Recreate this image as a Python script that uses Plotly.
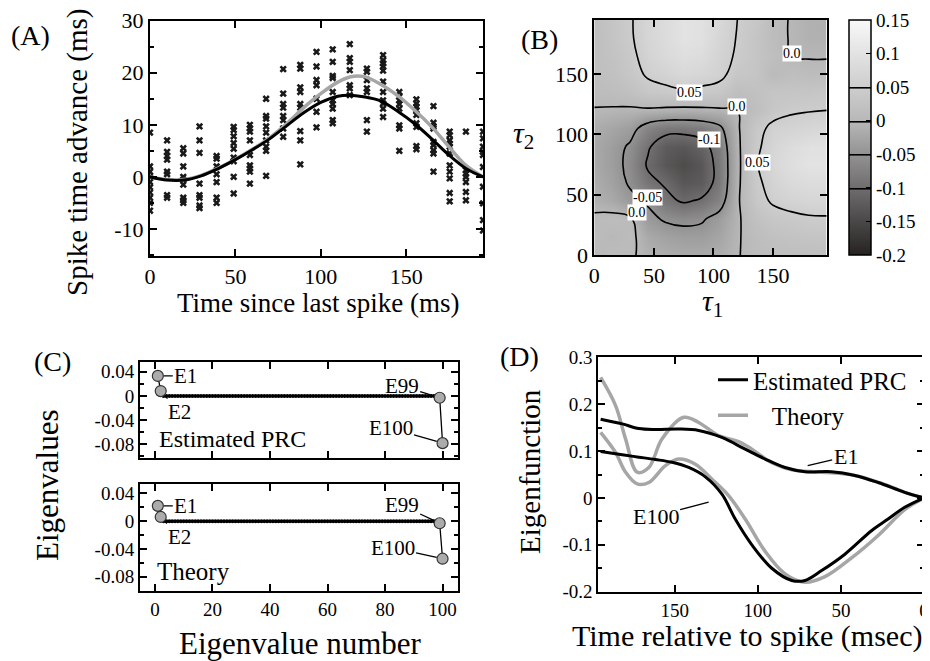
import plotly.graph_objects as go

W, H = 930, 661
OFF = 8  # the page body adds an 8px margin
FONT = "Liberation Serif"
GRAY = "#a6a6a6"


def px(x):
    return (x - OFF) / W


def py(y):
    return 1 - (y - OFF) / H


# ---------------- (A) spike time advance ----------------
phase_cols = [0, 10, 19.5, 29, 39, 49, 58.5, 68, 78, 88, 97.5, 107, 117, 127,
              136.5, 146, 156, 166, 175.5, 185, 195]
advance_pts = [
    [8.5, 2, 1, 0, -1, -2, -3, -4, -5, -6.5],
    [7, 4.8, 4, 3.3, 1, 0.5, -3.5, -4],
    [5.5, 4.5, 2, 0, -0.5, -1.5, -4, -4.5, -5],
    [9.7, 7, 4.6, -1.3, -3.5, -4, -5.5, -6],
    [4, 3.5, 2, 0.5, -1, -4, -5],
    [9.6, 9, 7.8, 6.5, 5.4, 3.7, 3, 0, -3.2],
    [10, 9.3, 8.7, 7, 4.2, 2.2, 1.6, 1, -1.3],
    [15, 11.7, 11.2, 9.7, 8.5, 7, 5.8, 5, 0.2],
    [20.7, 16, 14, 13.3, 11.7, 10.9, 9.3, 7.7],
    [21.5, 20.8, 17.2, 16.3, 14, 13.3, 8.8, 7, 2.4],
    [24, 21.2, 18.6, 17.6, 15, 12.5, 9.5],
    [24.5, 22.1, 19.4, 19, 16.3, 14.7, 14, 13.1, 10.9, 10.3],
    [25.5, 22.8, 22.1, 20.5, 17.6, 17, 15.7],
    [20.8, 20.2, 18.6, 17, 16.3, 10.9, 8.7],
    [23.4, 22.4, 21.8, 21.2, 20.4, 18.3, 16.3, 14.7, 14.1, 13.1, 11.5],
    [16.3, 15.4, 14.7, 14, 13.1, 9.9, 9.3, 5],
    [14.9, 14.1, 13.5, 12.8, 11.9, 10.3, 9.6, 5.9, 5.3],
    [13.6, 10.4, 9.7, 9.3, 6.7, 6.1, 5.1, 4.5, 1],
    [8.7, 8, 7, 6.4, 5.8, 4.5, 2.2, 1, -0.3, -3.1, -4.7],
    [8.7, 1.3, 0.6, 0, -1, -2.9, -4.5],
    [8.7, 7.4, 5.8, 4.8, 4.2, 1.9, -1.9, -5.1, -8.3, -10.3],
]
fit_t = [0, 10, 20, 30, 40, 50, 60, 70, 80, 90, 100, 110, 117, 125, 135, 145,
         155, 165, 175, 185, 195]
fit_est = [0, -0.6, -0.6, 0.2, 1.6, 3.3, 5.2, 7.3, 9.8, 12.3, 14.3, 15.5, 15.7,
           15.4, 14.6, 12.6, 10.2, 7.3, 4.2, 1.6, 0]
fit_theory = [0, -0.5, -0.5, 0.3, 1.7, 3.4, 5.3, 7.5, 10.2, 13.3, 16, 18.2, 19.2,
              19.3, 17.8, 15.6, 12.8, 9.6, 5.8, 2.2, 0]

# ---------------- (B) second order kernel ----------------
tau = [0, 15, 30, 45, 60, 75, 90, 105, 120, 135, 150, 165, 180, 195]
kernel = [
    [0.0, 0.01, 0.005, -0.01, -0.015, -0.02, -0.02, -0.015, -0.002, 0.01, 0.015, 0.015, 0.015, 0.015],
    [0.01, 0.0, 0.01, -0.02, -0.03, -0.035, -0.035, -0.025, -0.003, 0.012, 0.02, 0.025, 0.028, 0.03],
    [0.005, 0.01, 0.005, -0.04, -0.055, -0.06, -0.055, -0.035, -0.005, 0.02, 0.035, 0.04, 0.045, 0.046],
    [-0.01, -0.02, -0.04, -0.055, -0.09, -0.105, -0.095, -0.07, -0.005, 0.035, 0.055, 0.065, 0.07, 0.07],
    [-0.015, -0.03, -0.055, -0.09, -0.105, -0.13, -0.125, -0.085, -0.008, 0.04, 0.065, 0.08, 0.085, 0.085],
    [-0.02, -0.035, -0.06, -0.105, -0.13, -0.145, -0.13, -0.085, -0.01, 0.045, 0.075, 0.09, 0.1, 0.1],
    [-0.02, -0.035, -0.055, -0.095, -0.125, -0.13, -0.115, -0.08, -0.008, 0.04, 0.07, 0.085, 0.095, 0.095],
    [-0.015, -0.025, -0.035, -0.07, -0.085, -0.085, -0.08, -0.06, -0.005, 0.035, 0.06, 0.065, 0.07, 0.075],
    [-0.002, -0.003, -0.005, -0.005, -0.008, -0.01, -0.008, -0.005, 0.0, 0.015, 0.035, 0.045, 0.048, 0.05],
    [0.01, 0.012, 0.02, 0.035, 0.04, 0.045, 0.04, 0.035, 0.015, 0.02, 0.03, 0.03, 0.03, 0.035],
    [0.015, 0.02, 0.035, 0.055, 0.065, 0.075, 0.07, 0.06, 0.035, 0.03, 0.005, 0.015, 0.01, 0.01],
    [0.015, 0.025, 0.04, 0.065, 0.08, 0.09, 0.085, 0.065, 0.045, 0.03, 0.015, 0.0, -0.002, -0.002],
    [0.015, 0.028, 0.045, 0.07, 0.085, 0.1, 0.095, 0.07, 0.048, 0.03, 0.01, -0.002, -0.01, -0.01],
    [0.015, 0.03, 0.046, 0.07, 0.085, 0.1, 0.095, 0.075, 0.05, 0.035, 0.01, -0.002, -0.01, -0.012],
]
# contour labels as printed on the reference (text, tau1, tau2)
level_labels = [("0.05", 80, 135), ("0.0", 120, 123), ("-0.1", 96, 96),
                ("0.05", 137, 77), ("-0.05", 45, 48), ("0.0", 36, 35),
                ("0.0", 166, 167)]
cbar_ticks = [0.15, 0.1, 0.05, 0, -0.05, -0.1, -0.15, -0.2]
cbar_text = ["0.15", "0.1", "0.05", "0", "-0.05", "-0.1", "-0.15", "-0.2"]

# ---------------- (C) eigenvalues ----------------
eig_n = list(range(1, 101))
eig_est = [0.033, 0.008] + [0.0] * 96 + [-0.003, -0.078]
eig_theory = [0.022, 0.006] + [0.0] * 96 + [-0.003, -0.054]
eig_labels = ["E1", "E2", "E99", "E100"]

# ---------------- (D) eigenfunctions ----------------
ef_t_est1 = [194.6, 181.6, 171.6, 161.6, 147.6, 135.6, 121.6, 107.6, 95.6, 83.6,
             71.6, 55.6, 41.6, 27.6, 11.6, 0]
ef_est1 = [0.168, 0.158, 0.148, 0.146, 0.147, 0.144, 0.129, 0.104, 0.083, 0.065,
           0.056, 0.056, 0.048, 0.033, 0.012, 0]
ef_t_th1 = [194.6, 185.6, 179.6, 172.6, 165.6, 157.6, 144.6, 135.6, 123.6, 111.6,
            103.6, 91.6, 79.6, 61.6, 41.6, 21.6, 11.6, 0]
ef_th1 = [0.257, 0.197, 0.126, 0.055, 0.065, 0.126, 0.172, 0.161, 0.133, 0.12,
          0.104, 0.075, 0.06, 0.055, 0.048, 0.026, 0.012, 0]
ef_t_est100 = [194.6, 181.6, 171.6, 161.6, 151.6, 141.6, 131.6, 121.6, 113.6, 103.6,
               91.6, 79.6, 71.6, 61.6, 47.6, 31.6, 21.6, 11.6, 0]
ef_est100 = [0.099, 0.092, 0.087, 0.082, 0.076, 0.065, 0.045, 0.008, -0.045, -0.1,
             -0.15, -0.176, -0.176, -0.155, -0.12, -0.07, -0.045, -0.02, 0]
ef_t_th100 = [194.6, 185.6, 179.6, 172.6, 165.6, 155.6, 147.6, 137.6, 127.6, 117.6,
              107.6, 95.6, 83.6, 71.6, 59.6, 43.6, 27.6, 11.6, 0]
ef_th100 = [0.14, 0.097, 0.055, 0.03, 0.033, 0.069, 0.083, 0.072, 0.04, 0.005,
            -0.045, -0.114, -0.162, -0.18, -0.168, -0.128, -0.08, -0.025, 0]

fig = go.Figure()

# (A)
sx, sy = [], []
for xc, ys in zip(phase_cols, advance_pts):
    sx += [xc] * len(ys)
    sy += ys
fig.add_trace(go.Scatter(x=sx, y=sy, mode="markers", xaxis="x", yaxis="y",
                         marker=dict(symbol="x", size=6.5, color="#1a1a1a",
                                     line=dict(width=0)),
                         showlegend=False))
fig.add_trace(go.Scatter(x=fit_t, y=fit_theory, mode="lines", xaxis="x", yaxis="y",
                         line=dict(color=GRAY, width=3.5, shape="spline"),
                         showlegend=False))
fig.add_trace(go.Scatter(x=fit_t, y=fit_est, mode="lines", xaxis="x", yaxis="y",
                         line=dict(color="black", width=3, shape="spline"),
                         showlegend=False))

# (B)
fig.add_trace(go.Contour(
    x=tau, y=tau, z=kernel, xaxis="x2", yaxis="y2",
    zmin=-0.2, zmax=0.15,
    colorscale=[[0, "#262222"], [0.57, "#b8b8b8"], [1, "#f8f8f8"]],
    contours=dict(start=-0.1, end=0.05, size=0.05, coloring="heatmap",
                  showlabels=False),
    line=dict(color="black", width=1.6, smoothing=1.3),
    colorbar=dict(x=px(849), xanchor="left", y=py(20), yanchor="top",
                  len=235 / H, lenmode="fraction", thickness=22,
                  outlinewidth=1.5, outlinecolor="black",
                  tickmode="array", tickvals=cbar_ticks, ticktext=cbar_text,
                  ticks="inside", ticklen=5, tickcolor="black",
                  tickfont=dict(family=FONT, size=19, color="black"),
                  xpad=0, ypad=0),
))

# (C)
for vals, xa, ya in [(eig_est, "x3", "y3"), (eig_theory, "x4", "y4")]:
    fig.add_trace(go.Scatter(x=eig_n, y=vals, mode="lines+markers", xaxis=xa, yaxis=ya,
                             line=dict(color="black", width=1.3),
                             marker=dict(size=4, color="black"),
                             showlegend=False))
    idx = [0, 1, 98, 99]
    fig.add_trace(go.Scatter(x=[eig_n[i] for i in idx], y=[vals[i] for i in idx],
                             mode="markers", xaxis=xa, yaxis=ya,
                             marker=dict(size=11, color="#ababab",
                                         line=dict(color="#333", width=1.2)),
                             showlegend=False))

# (D)
fig.add_trace(go.Scatter(x=ef_t_th1, y=ef_th1, mode="lines", xaxis="x5", yaxis="y5",
                         line=dict(color=GRAY, width=3.5, shape="spline"),
                         name="\u00a0\u00a0\u00a0Theory", legendrank=2))
fig.add_trace(go.Scatter(x=ef_t_th100, y=ef_th100, mode="lines", xaxis="x5", yaxis="y5",
                         line=dict(color=GRAY, width=3.5, shape="spline"),
                         showlegend=False))
fig.add_trace(go.Scatter(x=ef_t_est1, y=ef_est1, mode="lines", xaxis="x5", yaxis="y5",
                         line=dict(color="black", width=3, shape="spline"),
                         name="Estimated PRC", legendrank=1))
fig.add_trace(go.Scatter(x=ef_t_est100, y=ef_est100, mode="lines", xaxis="x5", yaxis="y5",
                         line=dict(color="black", width=3, shape="spline"),
                         showlegend=False))


def axis(dom, rng, anchor, **kw):
    d = dict(domain=dom, range=rng, anchor=anchor, automargin=False,
             showline=True, linecolor="black",
             linewidth=2, mirror="ticks", ticks="inside", ticklen=7, tickwidth=1.5,
             tickcolor="black", showgrid=False, zeroline=False,
             tickfont=dict(family=FONT, size=22, color="black"))
    d.update(kw)
    return d


c_ytick = [0.04, 0, -0.04, -0.08]
c_ytext = ["0.04", "0", "-0.04", "-0.08"]
c_minor = dict(ticks="inside", ticklen=4, dtick=0.02, tick0=0, tickcolor="black")
small = dict(family=FONT, size=19, color="black")

fig.update_layout(
    width=W, height=H, margin=dict(l=0, r=0, t=0, b=0, autoexpand=False),
    plot_bgcolor="white", paper_bgcolor="white",
    font=dict(family=FONT, color="black"),
    xaxis=axis([px(150), px(483)], [0, 195], "y", tickvals=[0, 50, 100, 150]),
    yaxis=axis([py(256), py(20.7)], [-15.2, 30], "x",
               tickvals=[30, 20, 10, 0, -10], ticktext=["30", "20", "10", "0", "-10"],
               minor=dict(ticks="inside", ticklen=4, dtick=5, tick0=0, tickcolor="black")),
    xaxis2=axis([px(594.3), px(826.7)], [0, 195], "y2", tickvals=[0, 50, 100, 150]),
    yaxis2=axis([py(255), py(20)], [0, 195], "x2", tickvals=[0, 50, 100, 150]),
    xaxis3=axis([px(140), px(457.5)], [-5.2, 105.2], "y3",
                tickvals=[0, 20, 40, 60, 80, 100], showticklabels=False),
    yaxis3=axis([py(458.3), py(362.3)], [-0.103, 0.0555], "x3",
                tickvals=c_ytick, ticktext=c_ytext, minor=c_minor, tickfont=small),
    xaxis4=axis([px(140), px(457.5)], [-5.2, 105.2], "y4",
                tickvals=[0, 20, 40, 60, 80, 100], tickfont=small),
    yaxis4=axis([py(590.7), py(484)], [-0.1, 0.0534], "x4",
                tickvals=c_ytick, ticktext=c_ytext, minor=c_minor, tickfont=small),
    xaxis5=axis([px(598.3), px(924)], [196, 0], "y5",
                tickvals=[150, 100, 50, 0], tickfont=small),
    yaxis5=axis([py(591.7), py(357.3)], [-0.2, 0.3], "x5",
                tickvals=[0.3, 0.2, 0.1, 0, -0.1, -0.2],
                ticktext=["0.3", "0.2", "0.1", "0", "-0.1", "-0.2"], tickfont=small,
                minor=dict(ticks="inside", ticklen=4, dtick=0.05, tick0=0, tickcolor="black")),
    legend=dict(x=px(713), y=py(357), xanchor="left", yanchor="top",
                bgcolor="rgba(0,0,0,0)", font=dict(family=FONT, size=25),
                itemwidth=30, tracegroupgap=0),
)

ann = []


def text(x, y, s, size=24, angle=0):
    ann.append(dict(x=px(x), y=py(y), xref="paper", yref="paper", text=s,
                    xanchor="center", yanchor="middle",
                    showarrow=False, textangle=angle,
                    font=dict(family=FONT, size=size, color="black")))


text(30, 36, "(A)", 28)
text(77, 152, "Spike time advance (ms)", 29, -90)
text(318, 303, "Time since last spike (ms)", 27)
text(539, 39, "(B)", 28)
text(523, 135, "<i>τ</i><sub>2</sub>", 30)
text(712, 303, "<i>τ</i><sub>1</sub>", 30)
text(52, 361, "(C)", 28)
text(48, 485, "Eigenvalues", 31, -90)
text(300, 643, "Eigenvalue number", 31)
text(232, 439, "Estimated PRC", 24)
text(193, 571, "Theory", 25)
text(519, 356, "(D)", 28)
text(530, 472, "Eigenfunction", 29, -90)
text(747, 636, "Time relative to spike (msec)", 30)

# contour level labels in white boxes
for s, t1, t2 in level_labels:
    ann.append(dict(x=t1, y=t2, xref="x2", yref="y2", text=s, showarrow=False,
                    bgcolor="white", borderpad=0,
                    font=dict(family=FONT, size=14, color="black")))

# eigenvalue callouts
offsets = [(28, 0), (19, 21), (-38, -12), (-52, -15)]
offsets_b = [(28, 0), (19, 20), (-38, -18), (-50, -11)]
for vals, xa, ya, offs in [(eig_est, "x3", "y3", offsets), (eig_theory, "x4", "y4", offsets_b)]:
    for lab, i, (ax, ay) in zip(eig_labels, [0, 1, 98, 99], offs):
        ann.append(dict(x=eig_n[i], y=vals[i], xref=xa, yref=ya, text=lab,
                        showarrow=True, arrowhead=0, arrowwidth=1.3, arrowcolor="black",
                        ax=ax, ay=ay, standoff=6,
                        font=dict(family=FONT, size=21, color="black")))

ann.append(dict(x=70, y=0.069, xref="x5", yref="y5", text="E1", showarrow=True,
                arrowhead=0, arrowwidth=1.3, arrowcolor="black", ax=38, ay=-9,
                font=dict(family=FONT, size=22, color="black")))
ann.append(dict(x=129.6, y=-0.009, xref="x5", yref="y5", text="E100", showarrow=True,
                arrowhead=0, arrowwidth=1.3, arrowcolor="black", ax=-53, ay=14,
                font=dict(family=FONT, size=22, color="black")))

fig.update_layout(annotations=ann)
fig.write_html("out.html")
